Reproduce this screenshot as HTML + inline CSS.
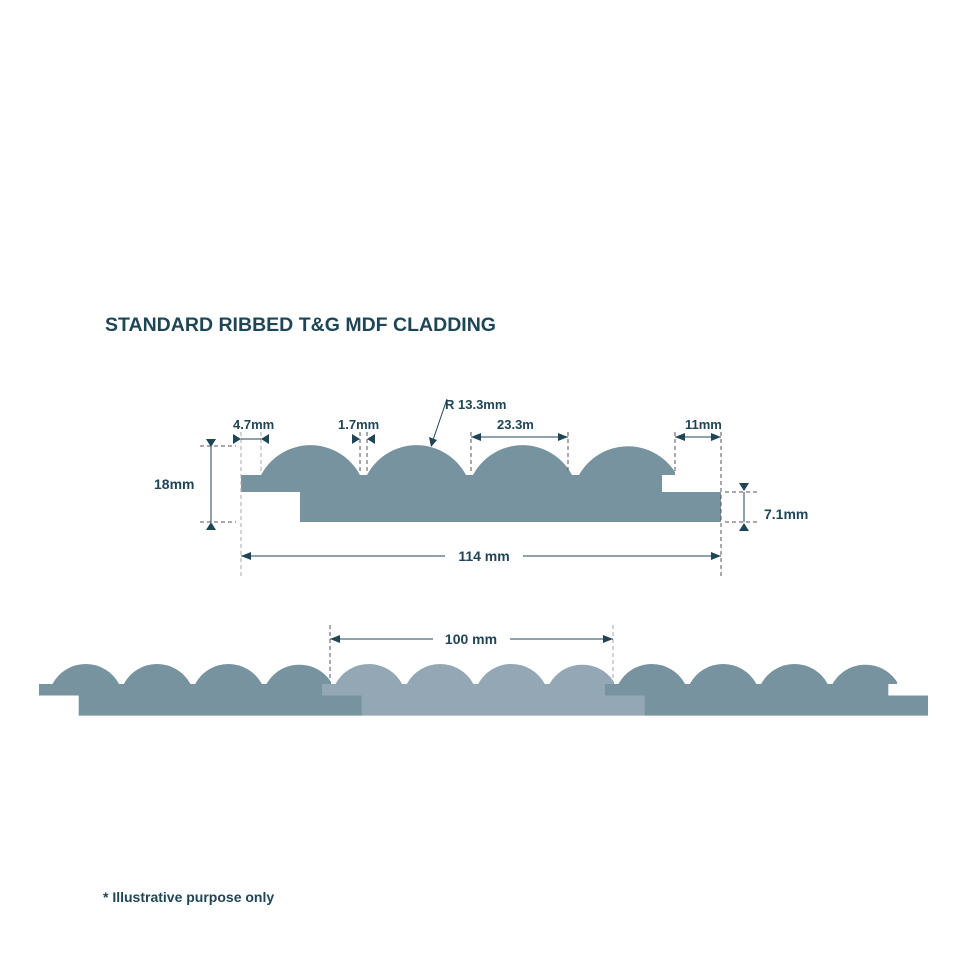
<!DOCTYPE html>
<html><head><meta charset="utf-8"><style>
html,body{margin:0;padding:0;background:#fff;}
svg{display:block;}
text{font-family:"Liberation Sans",sans-serif;font-weight:bold;fill:#1e4656;}
</style></head><body>
<svg width="967" height="969" viewBox="0 0 967 969" xmlns="http://www.w3.org/2000/svg">
<defs>
<path id="board" d="M0,29 L20,29 A56,56 0 0 1 119,29 L126,29 A56,56 0 0 1 225,29 L232,29 A56,56 0 0 1 331,29 L338,29 A56,56 0 0 1 434,26 L434,29 L421,29 L421,46 L480,46 L480,76 L59,76 L59,46 L0,46 Z"/>
</defs>
<text x="105" y="331" font-size="19" textLength="391" lengthAdjust="spacingAndGlyphs">STANDARD RIBBED T&amp;G MDF CLADDING</text>

<!-- top board -->
<use href="#board" transform="translate(241,446)" fill="#7893a0"/>

<g stroke="#1e4656" stroke-width="1" fill="none">
<!-- dashed extension lines -->
<g stroke-dasharray="4,3" stroke="#555">
<line x1="241" y1="432" x2="241" y2="578" stroke="#aaa"/>
<line x1="261" y1="432" x2="261" y2="473" stroke="#aaa"/>
<line x1="360" y1="432" x2="360" y2="473"/>
<line x1="367" y1="432" x2="367" y2="473"/>
<line x1="471" y1="432" x2="471" y2="473"/>
<line x1="568" y1="432" x2="568" y2="473"/>
<line x1="675" y1="432" x2="675" y2="473"/>
<line x1="721" y1="432" x2="721" y2="578"/>
<line x1="200" y1="446" x2="236" y2="446"/>
<line x1="200" y1="522" x2="236" y2="522"/>
<line x1="725" y1="492" x2="757" y2="492"/>
<line x1="725" y1="522" x2="757" y2="522"/>
<line x1="330" y1="625" x2="330" y2="690"/>
<line x1="613" y1="625" x2="613" y2="690" stroke="#aaa"/>
</g>
<line x1="211" y1="446" x2="211" y2="522"/>
<line x1="744" y1="492" x2="744" y2="522"/>
<line x1="241" y1="439" x2="261" y2="439"/>
<line x1="471" y1="437" x2="568" y2="437"/>
<line x1="675" y1="437" x2="721" y2="437"/>
<line x1="241" y1="556" x2="445" y2="556"/>
<line x1="523" y1="556" x2="721" y2="556"/>
<line x1="330" y1="639" x2="433" y2="639"/>
<line x1="510" y1="639" x2="613" y2="639"/>
<line x1="447" y1="399" x2="433" y2="440"/>
</g>
<g fill="#1e4656">
<polygon points="206,439 216,439 211,447"/>
<polygon points="206,530 216,530 211,522"/>
<polygon points="739,483 749,483 744,491"/>
<polygon points="739,531 749,531 744,523"/>
<polygon points="233,434 233,444 241,439"/>
<polygon points="269,434 269,444 261,439"/>
<polygon points="352,434 352,444 360,439"/>
<polygon points="375,434 375,444 367,439"/>
<polygon points="471,437 481,433 481,441"/>
<polygon points="568,437 558,433 558,441"/>
<polygon points="675,437 685,433 685,441"/>
<polygon points="721,437 711,433 711,441"/>
<polygon points="241,556 251,552 251,560"/>
<polygon points="721,556 711,552 711,560"/>
<polygon points="330,639 340,635 340,643"/>
<polygon points="613,639 603,635 603,643"/>
<polygon points="431,447 429,437 437,440"/>
</g>
<text x="233" y="429" font-size="13">4.7mm</text>
<text x="338" y="429" font-size="13">1.7mm</text>
<text x="445" y="409" font-size="13">R 13.3mm</text>
<text x="497" y="429" font-size="13">23.3m</text>
<text x="685" y="429" font-size="13">11mm</text>
<text x="154" y="489" font-size="14">18mm</text>
<text x="764" y="519" font-size="14">7.1mm</text>
<text x="484" y="561" font-size="14" text-anchor="middle">114 mm</text>
<text x="471" y="644" font-size="14" text-anchor="middle">100 mm</text>

<!-- bottom boards -->
<use href="#board" transform="translate(39,664.5) scale(0.673)" fill="#7893a0"/>
<use href="#board" transform="translate(322,664.5) scale(0.673)" fill="#93a8b4"/>
<use href="#board" transform="translate(605,664.5) scale(0.673)" fill="#7893a0"/>
<rect x="322" y="695.5" width="39" height="20" fill="#7893a0"/>

<text x="103" y="902" font-size="14">* Illustrative purpose only</text>
</svg>
</body></html>
